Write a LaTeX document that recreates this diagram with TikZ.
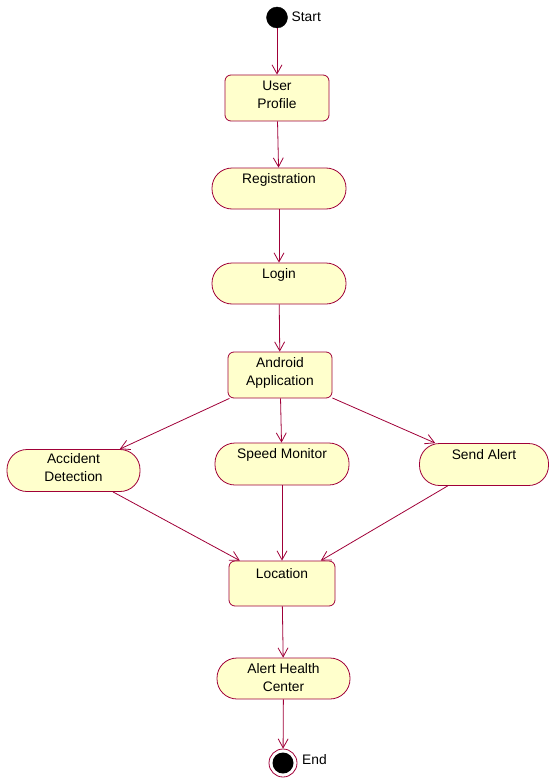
\documentclass[tikz,border=0pt]{standalone}
\usepackage{fontspec}
\setmainfont{Liberation Sans}
\usetikzlibrary{arrows.meta}
\definecolor{edgec}{RGB}{160,0,56}
\definecolor{fillc}{RGB}{255,255,204}
\newcommand{\dpt}[1]{\rule[-#1]{0pt}{#1}}
\begin{document}
\begin{tikzpicture}[x=1pt,y=-1pt,
  txt/.style={font=\fontsize{13.8}{18}\selectfont},
  actbox/.style={txt, draw=edgec, fill=fillc, line width=0.8pt, rounded corners=6pt,
    minimum width=104pt, minimum height=46pt, inner sep=0pt, align=center},
  stad/.style={actbox, rounded corners=20pt, minimum width=134pt, minimum height=41pt},
  flow/.style={draw=edgec, line width=0.8pt, -{Straight Barb[length=9pt,width=10pt]}}]
\useasboundingbox (0,0) rectangle (550,781);
\node[circle, fill=black, draw=black, minimum size=21pt, inner sep=0pt] (start) at (277,17.5) {};
\node[txt, anchor=west, inner sep=0pt] (startlbl) at (291.5,17) {Start};
\node[actbox] (up) at (277,98) {User\\Profile\dpt{7pt}};
\node[stad] (reg) at (279,188.5) {Registration\\\dpt{3pt}};
\node[stad] (login) at (279,283.5) {Login\\\dpt{3pt}};
\node[actbox] (android) at (280,375) {Android\\Application\dpt{7pt}};
\node[stad, minimum width=133pt, minimum height=42pt] (acc) at (73.5,470.5) {Accident\\Detection\dpt{6pt}};
\node[stad, minimum height=42pt] (speed) at (282,464) {Speed Monitor\\\dpt{3pt}};
\node[stad, minimum width=129pt, minimum height=42pt] (send) at (484,464.5) {Send Alert\\\dpt{3pt}};
\node[actbox, minimum width=106pt, minimum height=45pt] (loc) at (282,583.5) {Location\\\dpt{3pt}};
\node[stad, minimum width=133pt] (ahc) at (283.5,678.5) {Alert Health\\Center\dpt{2pt}};
\node[circle, draw=edgec, fill=white, line width=0.8pt, minimum size=28pt, inner sep=0pt] (end) at (283,763) {};
\node[circle, fill=black, minimum size=21pt, inner sep=0pt] (endin) at (end) {};
\node[txt, anchor=west, inner sep=0pt] (endlbl) at (302,760) {End};
\draw[flow] (start) -- (up);
\draw[flow] (up) -- (reg);
\draw[flow] (reg) -- (login);
\draw[flow] (login) -- (android);
\draw[flow] (android) -- (acc);
\draw[flow] (android) -- (speed);
\draw[flow] (android) -- (send);
\draw[flow] (acc) -- (loc);
\draw[flow] (speed) -- (loc);
\draw[flow] (send) -- (loc);
\draw[flow] (loc) -- (ahc);
\draw[flow] (ahc) -- (end);
\end{tikzpicture}
\end{document}
